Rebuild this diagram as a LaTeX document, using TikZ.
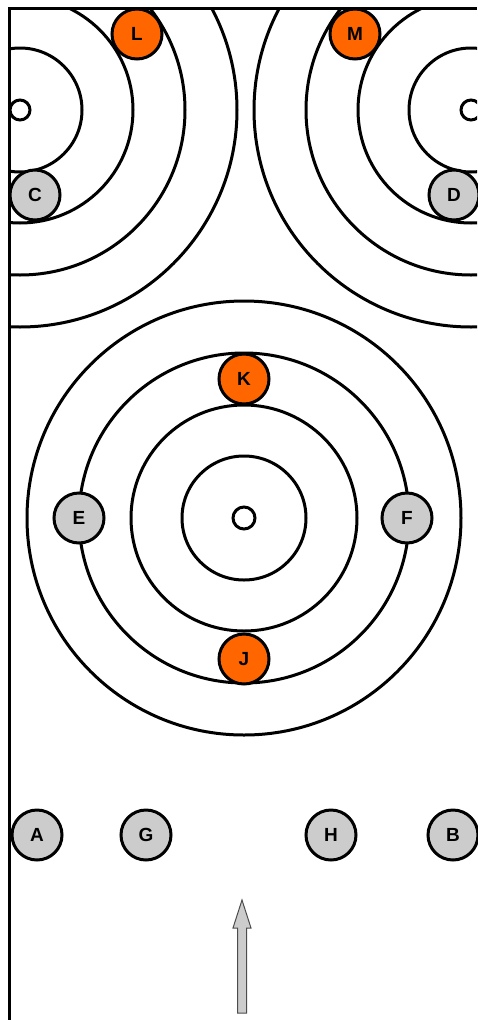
\documentclass[tikz,border=0pt]{standalone}
\usepackage{fontspec}
\setmainfont{Liberation Sans}
\definecolor{orng}{RGB}{255,102,0}
\definecolor{lgray}{RGB}{204,204,204}
\begin{document}
\begin{tikzpicture}[x=1pt,y=-1pt,
  ring/.style={draw=black,line width=3pt},
  disc/.style={circle,draw=black,line width=3pt,minimum size=50pt,inner sep=0pt,font=\bfseries\fontsize{19}{19}\selectfont},
  grey/.style={disc,fill=lgray},
  orange/.style={disc,fill=orng}]
\useasboundingbox (0,0) rectangle (477,1020);
\fill[white] (0,0) rectangle (477,1020);
\begin{scope}
  \clip (10,8) rectangle (477,1020);
  \foreach \r in {62,113,165,217} {
    \draw[ring] (20,110) circle (\r);
    \draw[ring] (471,110) circle (\r);
    \draw[ring] (244,518) circle (\r);
  }
  \draw[ring] (20,110) circle (10);
  \draw[ring] (471,110) circle (10);
  \draw[ring] (244,518) circle (11);
\end{scope}
\draw[line width=3pt] (9.7,1020) -- (9.7,8.5) -- (477,8.5);
\node[grey] (C) at (35,195) {C};
\node[grey] (D) at (454,195) {D};
\node[orange] (L) at (137,34) {L};
\node[orange] (M) at (355,34) {M};
\node[orange] (K) at (244,379) {K};
\node[orange] (J) at (244,659) {J};
\node[grey] (E) at (79,518) {E};
\node[grey] (F) at (407,518) {F};
\node[grey] (A) at (37,835) {A};
\node[grey] (G) at (146,835) {G};
\node[grey] (H) at (331,835) {H};
\node[grey] (B) at (453,835) {B};
\draw[fill=lgray,draw=black!70,line width=1pt]
  (237.5,1013) -- (237.5,928) -- (233,928) -- (242,900) -- (251,928) -- (246.5,928) -- (246.5,1013) -- cycle;
\end{tikzpicture}
\end{document}
